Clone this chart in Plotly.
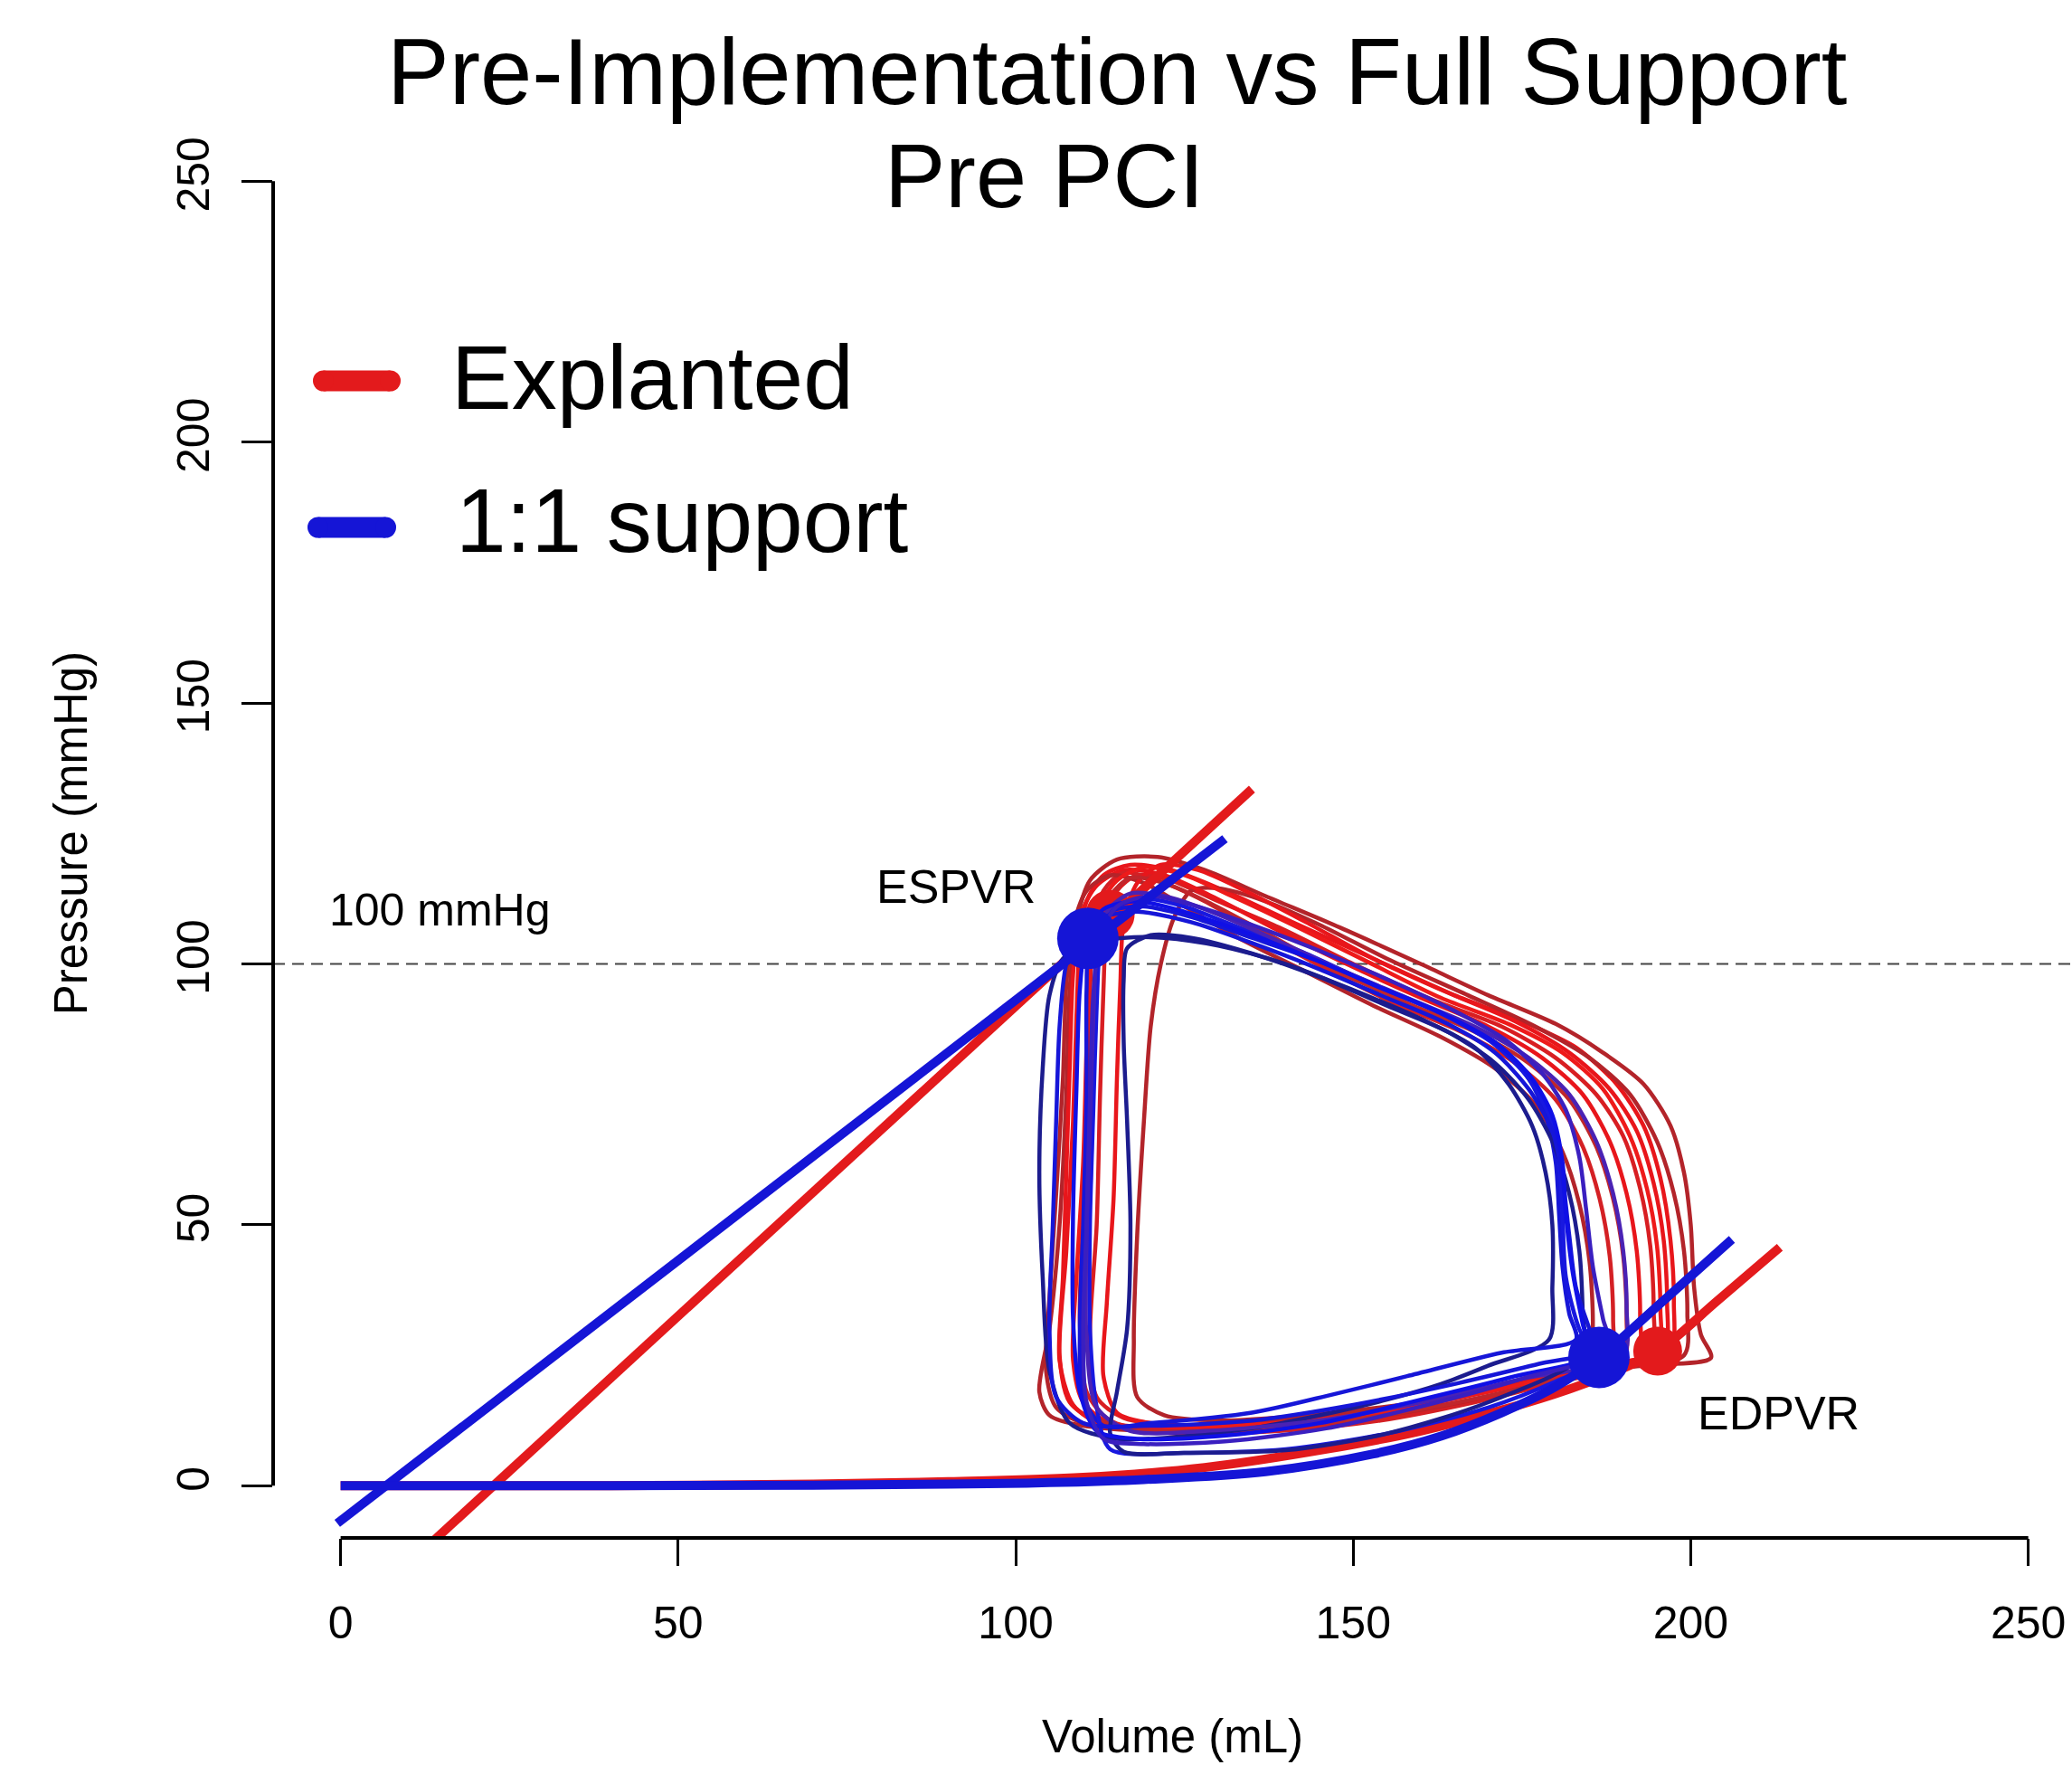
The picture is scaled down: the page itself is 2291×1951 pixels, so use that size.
import plotly.graph_objects as go

# ---------------- data ----------------
x_ticks = [0, 50, 100, 150, 200, 250]
y_ticks = [0, 50, 100, 150, 200, 250]

# pressure-volume loops, Explanted (red)
red_loops_v = [
    [203, 201.5, 200.5, 200, 199, 197, 193, 187, 180, 170, 160, 148, 137, 128, 121, 115, 111, 109, 108, 107.5, 106.5, 105, 103.5, 105, 110, 120, 135, 150, 165, 180, 192, 203],
    [197, 197.5, 197, 195.5, 193, 189, 183, 175, 165, 153, 141, 131, 123, 117, 113, 110.5, 109.5, 109, 108.5, 107.5, 106.5, 108, 112, 122, 137, 152, 167, 181, 191, 197],
    [194, 194.5, 194, 192.5, 190, 186, 180, 172, 162, 150, 139, 130, 123, 118, 115, 113.5, 113, 112.5, 112, 111, 112, 116, 126, 140, 155, 170, 183, 194],
    [199, 199.5, 199, 197.5, 195, 191, 185, 177, 167, 155, 145, 137, 130, 126, 123.5, 121.5, 120, 119, 118, 117.5, 118, 122, 130, 143, 157, 171, 185, 199],
    [192, 192.5, 192, 190.5, 188, 184, 178, 170, 160, 149, 138, 129, 122, 116, 112, 109.5, 108.5, 108, 107.5, 107, 106.5, 108.5, 113, 124, 139, 154, 168, 181, 192],
    [188, 188.5, 188, 186.5, 184, 180, 174, 166, 156, 146, 136, 128, 121, 116, 113, 111.5, 111, 110.5, 110, 109.5, 110.5, 114, 124, 139, 154, 168, 179, 188],
    [185, 185.5, 185, 183.5, 181, 177, 171, 163, 153, 143, 133, 125, 119, 114, 110.5, 108.5, 107.5, 107, 106, 105, 104.5, 106, 111, 122, 137, 152, 166, 177, 185],
    [196, 196.5, 196, 194.5, 192, 188, 182, 174, 164, 153, 143, 134, 127, 121.5, 118, 116, 115.5, 115, 114.5, 113.5, 113, 115, 120, 131, 146, 161, 175, 187, 196],
    [195, 195.5, 195, 193.5, 191, 187, 181, 173, 163, 152, 141, 132, 125, 119, 115, 112, 111, 110.5, 110, 109, 108.5, 110, 114, 124, 139, 154, 168, 182, 195],
    [190, 190.5, 190, 188.5, 186, 182, 176, 168, 158, 147, 137, 129, 122, 117, 114, 112.5, 112, 111.5, 111, 110, 109.5, 111, 116, 127, 142, 157, 171, 182, 190],
]
red_loops_p = [
    [24.5, 29, 38, 50, 60, 69, 77, 83, 88.5, 94, 100, 107, 113, 118, 120.5, 120, 116, 108, 95, 75, 50, 30, 18, 13.5, 11.5, 11, 12, 14, 17, 20.5, 23, 24.5],
    [26, 35, 47, 59, 69, 77, 84, 89, 94, 101, 108, 114, 118, 119, 117, 112, 104, 90, 70, 45, 25, 16, 12.5, 11, 11.5, 13, 17.5, 21.5, 24, 26],
    [25, 34, 46, 57, 67, 75, 82, 88, 93, 100, 107, 112, 116, 117, 114, 107, 95, 75, 50, 28, 17, 13, 11.5, 12, 14.5, 18, 22, 25],
    [25, 33, 45, 56, 66, 75, 82, 88, 94, 101, 107.5, 112, 114.5, 114, 109, 100, 88, 70, 48, 28, 17, 13.5, 12.5, 13.5, 15.5, 18.5, 22, 25],
    [24, 33, 45, 56, 66, 75, 82, 88, 93.5, 100, 107, 113, 117, 118, 115, 109, 98, 80, 60, 40, 24, 15.5, 11.5, 10.5, 11, 13, 16.5, 20.5, 24],
    [23, 32, 44, 55, 65, 74, 81, 87, 92.5, 99, 106, 112, 116, 117.5, 114, 106, 94, 75, 52, 32, 18, 12.5, 10, 10.5, 12.5, 16, 19.5, 23],
    [23, 31, 43, 54, 64, 73, 80, 86, 92, 98.5, 105, 111, 115.5, 117, 114, 107, 96, 78, 56, 36, 22, 15, 11.5, 10.5, 11, 13, 16, 19.5, 23],
    [26, 35, 47, 58, 68, 76, 83, 89, 94.5, 101, 108, 114, 118, 119, 115.5, 108, 96, 78, 55, 35, 21, 14, 12, 11.5, 12.5, 15, 18.5, 22.5, 26],
    [25, 34, 46, 57, 67, 76, 83, 88.5, 93.5, 100.5, 107.5, 113, 117, 118.5, 116, 110, 100, 84, 62, 40, 24, 16, 12, 11, 12, 14, 17.5, 21.5, 25],
    [24, 32, 44, 55, 65, 74, 81, 87, 92.5, 99, 106, 111.5, 115.5, 116.5, 113, 106, 95, 77, 55, 34, 20, 14, 11, 10.5, 11.5, 14, 17.5, 21, 24],
]
red_loop_colors = ["#B3242A", "#E8161B", "#D81E22", "#B3242A", "#E8161B", "#D42024",
                   "#B3242A", "#E8161B", "#EE1A1A", "#C0262B"]

# pressure-volume loops, 1:1 support (blue)
blue_loops_v = [
    [179, 179.5, 179.5, 178.5, 176.5, 173, 168, 160, 150, 140, 130, 122, 116, 111, 107, 105, 104, 103.5, 104, 105, 108, 115, 125, 135, 145, 155, 163, 170, 179],
    [183, 182, 181, 180.5, 180, 178.5, 176, 171, 164, 155, 145, 135, 126, 119, 114, 111, 110.5, 110.5, 110, 109.5, 110, 113, 120, 135, 147, 158, 172, 183],
    [186, 183.5, 181.5, 181, 180.5, 179, 176, 171, 163, 153, 143, 133, 125, 118.5, 114, 112.5, 112, 111.5, 111, 111, 112, 114, 125, 140, 155, 170, 180, 186],
    [190, 190.5, 190, 188.5, 186, 182, 176, 168, 158, 147, 137, 129, 122, 117, 113.5, 112, 111.5, 111, 110.5, 110.5, 112, 117, 128, 145, 160, 175, 190],
    [184, 184, 183.5, 182, 179.5, 176, 171, 164, 155, 145, 135, 126, 120, 116.5, 116, 116, 116.5, 117, 116.5, 115, 114, 116, 125, 140, 155, 170, 184],
    [186, 185, 183, 182, 181, 179.5, 176, 171, 164, 155, 145, 135, 126, 118, 113, 109.5, 107.5, 106.5, 106, 105.5, 105, 106, 110, 120, 135, 150, 165, 178, 186],
    [185, 184, 182.5, 181.5, 181, 179.5, 176.5, 171.5, 164, 154, 144, 134, 125, 118, 113, 110.5, 109.5, 109, 108.5, 108.5, 109.5, 112, 118, 130, 145, 160, 174, 185],
    [188, 187, 185.5, 184.5, 183.5, 181.5, 178, 172.5, 165, 156, 146, 136, 127, 120, 115, 112.5, 111.5, 111, 110.5, 110, 110.5, 113, 119, 131, 146, 161, 175, 188],
]
blue_loops_p = [
    [28, 38, 50, 60, 69, 77, 84, 89.5, 95, 100, 103.5, 105, 105, 104, 101, 94, 80, 60, 40, 22, 12, 9, 9.5, 11, 13.5, 16.5, 19.5, 23, 28],
    [28, 33, 42, 52, 62, 71, 78, 85, 90, 95, 100.5, 105, 109, 111, 110, 105, 95, 75, 50, 30, 17, 11.5, 12, 14, 17.5, 21, 25.5, 28],
    [24, 30, 40, 52, 62, 71, 78, 84.5, 90.5, 96, 102, 107, 111, 112.5, 110, 103, 92, 72, 50, 30, 15, 7, 6.3, 7, 10, 15, 20, 24],
    [25, 34, 45, 56, 66, 75, 82, 88, 93.5, 99.5, 105.5, 110, 113, 113.5, 110, 102, 90, 70, 48, 28, 15, 10.5, 10.5, 12.5, 16, 20.5, 25],
    [25, 33, 45, 56, 66, 74, 81, 87, 92, 97.5, 102, 105, 105.5, 103, 97, 85, 70, 50, 30, 18, 10, 6.5, 6.3, 6.8, 10, 16, 25],
    [26, 30, 38, 48, 59, 68, 76, 83, 88.5, 93.5, 99, 104, 108, 110, 109, 106, 100, 88, 70, 50, 30, 17, 12, 11.5, 12.5, 15.5, 19.5, 23.5, 26],
    [25, 31, 41, 52, 62, 71, 78, 84.5, 90, 95.5, 101, 106, 110, 112, 110.5, 105, 95, 76, 52, 32, 18, 10.5, 9, 9.5, 12, 16.5, 21, 25],
    [26, 32, 42, 53, 63, 72, 79, 85.5, 91, 96.5, 102, 107, 111, 113, 111, 105, 94, 74, 50, 30, 16, 9, 8, 8.5, 11, 15.5, 20.5, 26],
]
blue_loop_colors = ["#1C1C8E", "#1616D8", "#1818E0", "#4A22B4", "#1C1C8E", "#1616D8", "#1010E6", "#3A1FC0"]

# end-systolic pressure-volume relations (straight lines)
red_espvr_v = [13.8, 135.0]
red_espvr_p = [-10.5, 133.5]
blue_espvr_v = [-0.5, 131.0]
blue_espvr_p = [-7.2, 124.0]

# end-diastolic pressure-volume relations
red_edpvr_v = [0, 40, 70, 90, 110, 128, 146, 160, 172, 182, 189, 195.1, 204, 213.2]
red_edpvr_p = [0, 0, 0.3, 0.8, 1.6, 3.5, 7.0, 10.5, 14.5, 18.5, 22, 25.8, 35.5, 45.7]
blue_edpvr_v = [0, 40, 70, 90, 105, 119, 137, 153, 163, 172, 180, 186.4, 196, 206.1]
blue_edpvr_p = [0, 0, 0.1, 0.3, 0.6, 1.2, 2.7, 6.1, 9.5, 14, 19, 24.6, 35.5, 47.2]

# end-systolic / end-diastolic points
red_points_v = [114.0, 195.1]
red_points_p = [109.5, 25.8]
blue_points_v = [110.7, 186.4]
blue_points_p = [104.9, 24.6]

reference_pressure = 100

RED = "#E31A1C"
BLUE = "#1515D6"
FONT = "Arial, 'Liberation Sans', sans-serif"

# ---------------- figure ----------------
W, H = 2291, 1951
ML, MR, MT, MB = 302, 0, 142, 251
PW, PH = W - ML - MR, H - MT - MB


def pxx(px):
    return (px - ML) / PW


def pxy(py):
    return 1 - (py - MT) / PH


fig = go.Figure()

for v, p, c in zip(red_loops_v, red_loops_p, red_loop_colors):
    fig.add_trace(go.Scatter(x=v, y=p, mode="lines", line=dict(color=c, width=4.5, shape="spline", smoothing=0.8),
                             showlegend=False, hoverinfo="skip"))
fig.add_trace(go.Scatter(x=red_espvr_v, y=red_espvr_p, mode="lines", line=dict(color=RED, width=10), showlegend=False))
fig.add_trace(go.Scatter(x=red_edpvr_v, y=red_edpvr_p, mode="lines", line=dict(color=RED, width=10, shape="spline"), showlegend=False))
fig.add_trace(go.Scatter(x=red_points_v, y=red_points_p, mode="markers", marker=dict(color=RED, size=54), showlegend=False))

for v, p, c in zip(blue_loops_v, blue_loops_p, blue_loop_colors):
    fig.add_trace(go.Scatter(x=v, y=p, mode="lines", line=dict(color=c, width=4.5, shape="spline", smoothing=0.8),
                             showlegend=False, hoverinfo="skip"))
fig.add_trace(go.Scatter(x=blue_espvr_v, y=blue_espvr_p, mode="lines", line=dict(color=BLUE, width=10), showlegend=False))
fig.add_trace(go.Scatter(x=blue_edpvr_v, y=blue_edpvr_p, mode="lines", line=dict(color=BLUE, width=10, shape="spline"), showlegend=False))
fig.add_trace(go.Scatter(x=blue_points_v, y=blue_points_p, mode="markers", marker=dict(color=BLUE, size=68), showlegend=False))

x_per_px = 250 / 1866.0
y_per_px = 250 / 1442.0
x_range = [-10, -10 + PW * x_per_px]
y_range = [-10, -10 + PH * y_per_px]

fig.update_layout(
    width=W, height=H,
    margin=dict(l=ML, r=MR, t=MT, b=MB, autoexpand=False),
    paper_bgcolor="white", plot_bgcolor="white",
    font=dict(family=FONT, color="black"),
    showlegend=False,
    xaxis=dict(range=x_range, autorange=False, showgrid=False, zeroline=False, showline=False,
               tickmode="array", tickvals=x_ticks, ticks="outside", ticklen=30, tickwidth=2.5, tickcolor="black",
               tickfont=dict(size=50, family=FONT, color="black"), ticklabelstandoff=20,
               title=dict(text="Volume (mL)", font=dict(size=51, family=FONT), standoff=80)),
    yaxis=dict(range=y_range, autorange=False, showgrid=False, zeroline=False, showline=False,
               tickmode="array", tickvals=y_ticks, ticks="outside", ticklen=34, tickwidth=2.5, tickcolor="black",
               tickangle=-90, tickfont=dict(size=50, family=FONT, color="black"), ticklabelstandoff=16,
               title=dict(text="Pressure (mmHg)", font=dict(size=51, family=FONT), standoff=73)),
)


def legend_key(x_left, x_right, y_px, color, thick=23):
    r = thick / 2.0
    items = [dict(type="line", xref="paper", yref="paper", x0=pxx(x_left + r), x1=pxx(x_right - r),
                  y0=pxy(y_px), y1=pxy(y_px), line=dict(color=color, width=thick))]
    for xc in (x_left + r, x_right - r):
        items.append(dict(type="circle", xref="paper", yref="paper", xsizemode="pixel", ysizemode="pixel",
                          xanchor=pxx(xc), yanchor=pxy(y_px), x0=-r, x1=r, y0=-r, y1=r,
                          fillcolor=color, line=dict(width=0)))
    return items


shapes = [
    # axis lines spanning only the tick range (base-graphics style)
    dict(type="line", xref="x", yref="paper", x0=x_ticks[0], x1=x_ticks[-1], y0=0, y1=0,
         line=dict(color="black", width=4)),
    dict(type="line", xref="paper", yref="y", x0=0, x1=0, y0=y_ticks[0], y1=y_ticks[-1],
         line=dict(color="black", width=4)),
    # 100 mmHg reference line
    dict(type="line", xref="paper", yref="y", x0=0, x1=1, y0=reference_pressure, y1=reference_pressure,
         line=dict(color="#444444", width=2, dash="13px,8px"), layer="below"),
]
shapes += legend_key(346, 443, 421, RED)
shapes += legend_key(340, 438, 583, BLUE)
fig.update_layout(shapes=shapes)

annotations = [
    dict(text="Pre-Implementation vs Full Support", xref="paper", yref="paper", x=pxx(1235), y=pxy(80),
         xanchor="center", yanchor="middle", showarrow=False, font=dict(size=103, family=FONT)),
    dict(text="Pre PCI", xref="paper", yref="paper", x=pxx(1155), y=pxy(194),
         xanchor="center", yanchor="middle", showarrow=False, font=dict(size=101, family=FONT)),
    dict(text="Explanted", xref="paper", yref="paper", x=pxx(497), y=pxy(417),
         xanchor="left", yanchor="middle", showarrow=False, font=dict(size=100, family=FONT)),
    dict(text="1:1 support", xref="paper", yref="paper", x=pxx(502), y=pxy(575),
         xanchor="left", yanchor="middle", showarrow=False, font=dict(size=100, family=FONT)),
    dict(text="100 mmHg", xref="x", yref="y", x=-2.0, y=110.4,
         xanchor="left", yanchor="middle", showarrow=False, font=dict(size=50, family=FONT)),
    dict(text="ESPVR", xref="x", yref="y", x=91.1, y=114.9,
         xanchor="center", yanchor="middle", showarrow=False, font=dict(size=52, family=FONT)),
    dict(text="EDPVR", xref="x", yref="y", x=213.0, y=14.0,
         xanchor="center", yanchor="middle", showarrow=False, font=dict(size=52, family=FONT)),
]
fig.update_layout(annotations=annotations)

fig.write_html("out.html", config={"displayModeBar": False},
               post_script="document.body.style.margin='0';")
